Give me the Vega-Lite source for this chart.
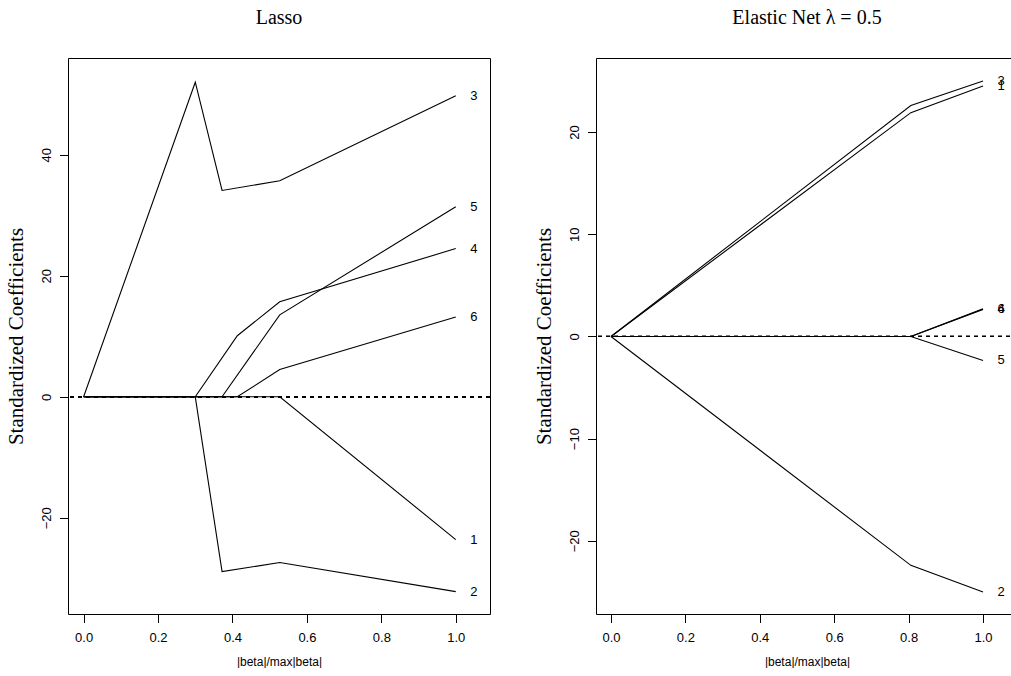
{
  "$schema": "https://vega.github.io/schema/vega-lite/v6.json",
  "background": "white",
  "padding": {"left": 5, "top": 7, "right": 0, "bottom": 0},
  "bounds": "flush",
  "spacing": 106,
  "datasets": {
    "lasso": [
      {"var": "1", "step": 0, "x": 0, "y": 0},
      {"var": "1", "step": 1, "x": 0.30, "y": 0},
      {"var": "1", "step": 2, "x": 0.527, "y": 0},
      {"var": "1", "step": 3, "x": 1.0, "y": -23.6},
      {"var": "2", "step": 0, "x": 0, "y": 0},
      {"var": "2", "step": 1, "x": 0.30, "y": 0},
      {"var": "2", "step": 2, "x": 0.372, "y": -28.9},
      {"var": "2", "step": 3, "x": 0.527, "y": -27.4},
      {"var": "2", "step": 4, "x": 1.0, "y": -32.2},
      {"var": "3", "step": 0, "x": 0, "y": 0},
      {"var": "3", "step": 1, "x": 0.30, "y": 52.0},
      {"var": "3", "step": 2, "x": 0.372, "y": 34.1},
      {"var": "3", "step": 3, "x": 0.527, "y": 35.7},
      {"var": "3", "step": 4, "x": 1.0, "y": 49.75},
      {"var": "4", "step": 0, "x": 0, "y": 0},
      {"var": "4", "step": 1, "x": 0.30, "y": 0},
      {"var": "4", "step": 2, "x": 0.413, "y": 10.1},
      {"var": "4", "step": 3, "x": 0.527, "y": 15.7},
      {"var": "4", "step": 4, "x": 1.0, "y": 24.5},
      {"var": "5", "step": 0, "x": 0, "y": 0},
      {"var": "5", "step": 1, "x": 0.372, "y": 0},
      {"var": "5", "step": 2, "x": 0.527, "y": 13.55},
      {"var": "5", "step": 3, "x": 1.0, "y": 31.4},
      {"var": "6", "step": 0, "x": 0, "y": 0},
      {"var": "6", "step": 1, "x": 0.413, "y": 0},
      {"var": "6", "step": 2, "x": 0.527, "y": 4.5},
      {"var": "6", "step": 3, "x": 1.0, "y": 13.2}
    ],
    "enet": [
      {"var": "1", "step": 0, "x": 0, "y": 0},
      {"var": "1", "step": 1, "x": 0.806, "y": 21.9},
      {"var": "1", "step": 2, "x": 1.0, "y": 24.5},
      {"var": "2", "step": 0, "x": 0, "y": 0},
      {"var": "2", "step": 1, "x": 0.806, "y": -22.4},
      {"var": "2", "step": 2, "x": 1.0, "y": -25.0},
      {"var": "3", "step": 0, "x": 0, "y": 0},
      {"var": "3", "step": 1, "x": 0.806, "y": 22.6},
      {"var": "3", "step": 2, "x": 1.0, "y": 25.0},
      {"var": "4", "step": 0, "x": 0, "y": 0},
      {"var": "4", "step": 1, "x": 0.806, "y": 0},
      {"var": "4", "step": 2, "x": 1.0, "y": 2.7},
      {"var": "5", "step": 0, "x": 0, "y": 0},
      {"var": "5", "step": 1, "x": 0.806, "y": 0},
      {"var": "5", "step": 2, "x": 1.0, "y": -2.35},
      {"var": "6", "step": 0, "x": 0, "y": 0},
      {"var": "6", "step": 1, "x": 0.806, "y": 0},
      {"var": "6", "step": 2, "x": 1.0, "y": 2.65}
    ]
  },
  "hconcat": [
    {
      "width": 422,
      "height": 556,
      "title": {"text": "Lasso"},
      "data": {"name": "lasso"},
      "encoding": {
        "x": {
          "field": "x", "type": "quantitative",
          "scale": {"domain": [-0.042, 1.092], "nice": false, "zero": false},
          "axis": {"values": [0, 0.2, 0.4, 0.6, 0.8, 1.0], "format": ".1f", "title": "|beta|/max|beta|"}
        },
        "y": {
          "field": "y", "type": "quantitative",
          "scale": {"domain": [-35.9, 56.0], "nice": false, "zero": false},
          "axis": {"values": [-20, 0, 20, 40], "title": "Standardized Coefficients"}
        }
      },
      "layer": [
        {
          "mark": {"type": "rule", "strokeDash": [4, 4], "color": "black", "strokeWidth": 0.9},
          "encoding": {"y": {"datum": 0}, "x": null}
        },
        {
          "mark": {"type": "line", "color": "black", "strokeWidth": 1.1},
          "encoding": {"detail": {"field": "var"}, "order": {"field": "step", "type": "quantitative"}}
        },
        {
          "transform": [{"filter": "datum.x == 1"}],
          "mark": {"type": "text", "dx": 18, "align": "center", "baseline": "middle", "font": "Liberation Sans", "fontSize": 13, "color": "black"},
          "encoding": {"text": {"field": "var"}}
        }
      ]
    },
    {
      "width": 422,
      "height": 556,
      "title": {"text": "Elastic Net λ = 0.5"},
      "data": {"name": "enet"},
      "encoding": {
        "x": {
          "field": "x", "type": "quantitative",
          "scale": {"domain": [-0.0403, 1.094], "nice": false, "zero": false},
          "axis": {"values": [0, 0.2, 0.4, 0.6, 0.8, 1.0], "format": ".1f", "title": "|beta|/max|beta|"}
        },
        "y": {
          "field": "y", "type": "quantitative",
          "scale": {"domain": [-27.16, 27.25], "nice": false, "zero": false},
          "axis": {"values": [-20, -10, 0, 10, 20], "title": "Standardized Coefficients"}
        }
      },
      "layer": [
        {
          "mark": {"type": "rule", "strokeDash": [4, 4], "color": "black", "strokeWidth": 0.9},
          "encoding": {"y": {"datum": 0}, "x": null}
        },
        {
          "mark": {"type": "line", "color": "black", "strokeWidth": 1.1},
          "encoding": {"detail": {"field": "var"}, "order": {"field": "step", "type": "quantitative"}}
        },
        {
          "transform": [{"filter": "datum.x == 1"}],
          "mark": {"type": "text", "dx": 18, "align": "center", "baseline": "middle", "font": "Liberation Sans", "fontSize": 13, "color": "black"},
          "encoding": {"text": {"field": "var"}}
        }
      ]
    }
  ],
  "config": {
    "view": {"stroke": "black", "strokeWidth": 1},
    "title": {"font": "Liberation Serif", "fontSize": 20, "fontWeight": "normal", "color": "black", "anchor": "middle", "frame": "group", "baseline": "alphabetic", "offset": 30.5},
    "axis": {
      "grid": false, "domain": false,
      "tickColor": "black", "tickSize": 8.5, "tickWidth": 1,
      "labelFont": "Liberation Sans", "labelFontSize": 13, "labelColor": "black",
      "titleColor": "black", "titleFontWeight": "normal"
    },
    "axisX": {
      "labelPadding": 9, "labelBaseline": "top",
      "titleFont": "Liberation Sans", "titleFontSize": 12, "titlePadding": 12
    },
    "axisY": {
      "labelAngle": -90, "labelAlign": "center", "labelBaseline": "bottom", "labelPadding": 6,
      "titleFont": "Liberation Serif", "titleFontSize": 21, "titlePadding": 14
    }
  }
}
